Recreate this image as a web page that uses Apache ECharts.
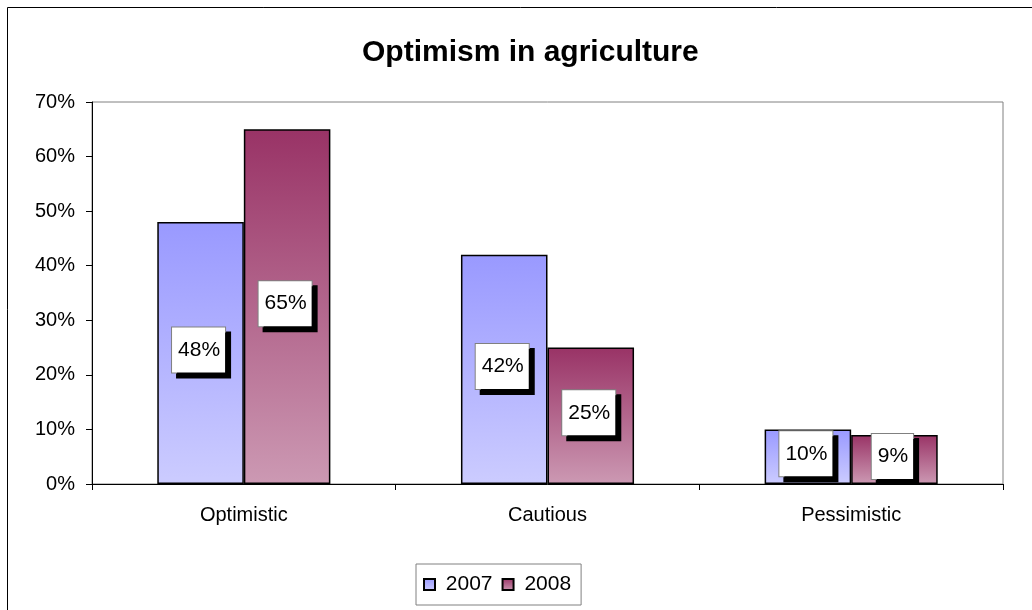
<!DOCTYPE html>
<html>
<head>
<meta charset="utf-8">
<script src="https://cdn.jsdelivr.net/npm/echarts@6/dist/echarts.min.js"></script>
<style>
  html, body { margin: 0; padding: 0; background: #ffffff; }
  #chart { width: 1032px; height: 610px; }
</style>
</head>
<body>
<div id="chart"></div>
<script>
const categories = ["Optimistic", "Cautious", "Pessimistic"];
const values2007 = [48, 42, 10];
const values2008 = [65, 25, 9];
const seriesNames = ["2007", "2008"];

const font = "Liberation Sans, Arial, sans-serif";

function grad(top, bottom) {
  return new echarts.graphic.LinearGradient(0, 0, 0, 1, [
    { offset: 0, color: top },
    { offset: 1, color: bottom }
  ]);
}

// white boxes with a hard black drop shadow, like the old Excel labels
const labelStyle = {
  show: true,
  position: "inside",
  offset: [-2, -3],
  formatter: "{c}%",
  color: "#000000",
  fontFamily: font,
  fontSize: 21,
  lineHeight: 24,
  backgroundColor: "#ffffff",
  borderColor: "#808080",
  borderWidth: 1,
  padding: [11, 5, 10, 6],
  shadowColor: "#000000",
  shadowBlur: 0,
  shadowOffsetX: 5,
  shadowOffsetY: 5
};

const chart = echarts.init(document.getElementById("chart"), null, { renderer: "canvas" });

chart.setOption({
  animation: false,
  backgroundColor: "#ffffff",
  graphic: [
    {
      type: "rect",
      shape: { x: 7.5, y: 7.5, width: 1100, height: 700 },
      style: { fill: "none", stroke: "#000000", lineWidth: 1 },
      silent: true
    }
  ],
  title: {
    text: "Optimism in agriculture",
    left: 357,
    top: 33,
    textStyle: {
      color: "#000000",
      fontFamily: font,
      fontSize: 30,
      fontWeight: "bold"
    }
  },
  grid: {
    left: 92,
    right: 29,
    top: 102,
    bottom: 126,
    show: true,
    borderColor: "#808080",
    borderWidth: 1
  },
  legend: {
    data: seriesNames,
    bottom: 5,
    left: 416,
    itemWidth: 11,
    itemHeight: 11,
    itemGap: 9,
    padding: [10, 10, 10, 7],
    borderColor: "#808080",
    borderWidth: 1,
    icon: "rect",
    formatter: " {name}",
    textStyle: {
      color: "#000000",
      fontFamily: font,
      fontSize: 21
    }
  },
  xAxis: {
    type: "category",
    data: categories,
    axisLine: { lineStyle: { color: "#000000", width: 1 } },
    axisTick: { show: true, alignWithLabel: false, length: 6, lineStyle: { color: "#000000" } },
    axisLabel: {
      color: "#000000",
      fontFamily: font,
      fontSize: 20,
      margin: 21
    },
    splitLine: { show: false }
  },
  yAxis: {
    type: "value",
    min: 0,
    max: 70,
    interval: 10,
    axisLine: { show: true, lineStyle: { color: "#000000", width: 1 } },
    axisTick: { show: true, length: 6, lineStyle: { color: "#000000" } },
    axisLabel: {
      color: "#000000",
      fontFamily: font,
      fontSize: 20,
      margin: 17,
      formatter: "{value}%"
    },
    splitLine: { show: false }
  },
  series: [
    {
      name: seriesNames[0],
      type: "bar",
      data: values2007,
      barGap: "0%",
      barCategoryGap: "43%",
      itemStyle: {
        color: grad("#9999ff", "#ccccff"),
        borderColor: "#000000",
        borderWidth: 1.5
      },
      label: labelStyle
    },
    {
      name: seriesNames[1],
      type: "bar",
      data: values2008,
      barGap: "0%",
      barCategoryGap: "43%",
      itemStyle: {
        color: grad("#993366", "#cc99b3"),
        borderColor: "#000000",
        borderWidth: 1.5
      },
      label: labelStyle
    }
  ]
});
</script>
</body>
</html>
